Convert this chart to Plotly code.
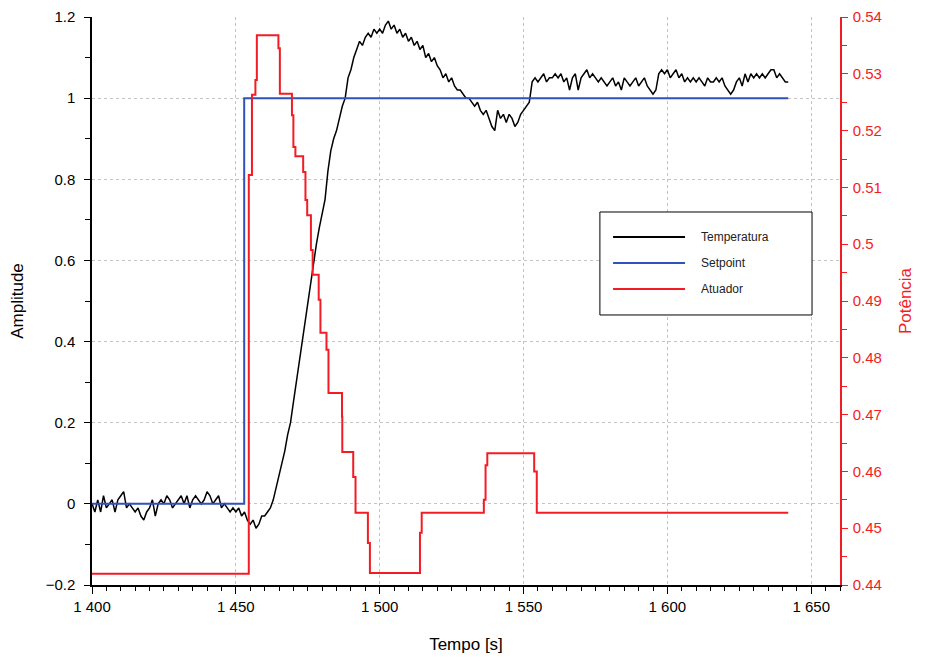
import plotly.graph_objects as go

# Temperatura (amplitude), one sample per second from 1400 s
temp_t0 = 1400
temperatura = [
    0.00, -0.02, 0.01, -0.02, 0.02, -0.01, 0.00, 0.01, -0.02, 0.01,
    0.02, 0.03, -0.01, 0.00, -0.01, -0.02, -0.01, -0.03, -0.04, -0.02,
    -0.01, 0.01, -0.03, 0.00, 0.01, 0.00, 0.02, 0.01, -0.01, 0.00,
    0.01, 0.02, 0.00, 0.02, -0.01, 0.01, 0.02, 0.01, 0.00, 0.01,
    0.03, 0.02, 0.00, 0.01, 0.02, -0.01, 0.00, -0.01, -0.02, -0.01,
    -0.02, -0.01, -0.03, -0.02, -0.04, -0.05, -0.04, -0.06, -0.05, -0.03,
    -0.03, -0.02, -0.01, 0.01, 0.04, 0.07, 0.10, 0.13, 0.17, 0.20,
    0.25, 0.30, 0.35, 0.40, 0.45, 0.50, 0.55, 0.60, 0.64, 0.68,
    0.72, 0.75, 0.82, 0.87, 0.90, 0.92, 0.95, 0.98, 1.00, 1.05,
    1.07, 1.10, 1.12, 1.14, 1.13, 1.15, 1.16, 1.15, 1.17, 1.16,
    1.17, 1.16, 1.18, 1.19, 1.17, 1.18, 1.16, 1.17, 1.15, 1.16,
    1.14, 1.15, 1.13, 1.14, 1.12, 1.13, 1.10, 1.11, 1.09, 1.10,
    1.08, 1.07, 1.05, 1.06, 1.04, 1.05, 1.03, 1.02, 1.02, 1.01,
    1.00, 1.00, 0.99, 0.98, 0.99, 0.97, 0.96, 0.97, 0.95, 0.93,
    0.92, 0.97, 0.95, 0.96, 0.94, 0.96, 0.95, 0.93, 0.94, 0.96,
    0.97, 0.98, 0.99, 1.04, 1.05, 1.04, 1.05, 1.06, 1.04, 1.05,
    1.05, 1.06, 1.05, 1.06, 1.04, 1.05, 1.02, 1.05, 1.06, 1.02,
    1.05, 1.06, 1.07, 1.05, 1.06, 1.05, 1.04, 1.05, 1.04, 1.03,
    1.04, 1.05, 1.03, 1.04, 1.02, 1.05, 1.04, 1.03, 1.04, 1.05,
    1.03, 1.04, 1.05, 1.03, 1.02, 1.01, 1.02, 1.06, 1.07, 1.06,
    1.07, 1.05, 1.06, 1.07, 1.05, 1.06, 1.04, 1.05, 1.04, 1.05,
    1.04, 1.05, 1.04, 1.03, 1.05, 1.04, 1.04, 1.05, 1.04, 1.05,
    1.03, 1.02, 1.01, 1.02, 1.04, 1.05, 1.03, 1.06, 1.04, 1.06,
    1.05, 1.06, 1.05, 1.06, 1.05, 1.06, 1.07, 1.07, 1.05, 1.06,
    1.05, 1.04, 1.04,
]
temp_time = [temp_t0 + i for i in range(len(temperatura))]

# Setpoint (step)
setpoint_time = [1400, 1452.9, 1642]
setpoint = [0, 1, 1]

# Atuador (potência), piecewise constant
atuador_time = [1400, 1454.5, 1455.6, 1456.8, 1457.3, 1464.8, 1465.3,
                1469.5, 1470.0, 1470.7, 1473.4, 1474.2, 1474.8, 1476.1, 1476.7,
                1478.8, 1479.4, 1481.5, 1482.2, 1486.9, 1487.0, 1490.8, 1491.6,
                1495.9, 1496.6, 1514.0, 1514.6, 1536.2, 1536.8, 1537.4, 1553.7,
                1554.6, 1642]
atuador = [0.442, 0.5122, 0.5263, 0.5289, 0.5368, 0.5345, 0.5265,
           0.5227, 0.5171, 0.5155, 0.5127, 0.5078, 0.5051, 0.4990, 0.4946,
           0.4902, 0.4844, 0.4814, 0.4738, 0.4696, 0.4634, 0.4590, 0.4527,
           0.4474, 0.4421, 0.4492, 0.4527, 0.4550, 0.4611, 0.4632, 0.4600,
           0.4527, 0.4527]

RED = '#f41c24'
BLUE = '#2f52bd'
FONT = 'Liberation Sans, Arial, sans-serif'

fig = go.Figure()
fig.add_trace(go.Scatter(x=temp_time, y=temperatura, mode='lines', name='Temperatura',
                         line=dict(color='black', width=1.5)))
fig.add_trace(go.Scatter(x=setpoint_time, y=setpoint, mode='lines', name='Setpoint',
                         line=dict(color=BLUE, width=2, shape='hv')))
fig.add_trace(go.Scatter(x=atuador_time, y=atuador, mode='lines', name='Atuador',
                         line=dict(color=RED, width=2, shape='hv'), yaxis='y2'))

grid = dict(showgrid=True, gridcolor='#c4c4c4', griddash='dot', gridwidth=1)

# the page adds an 8 px body margin, size and margins below account for it
fig.update_layout(
    width=920, height=653,
    margin=dict(l=84, r=88, t=9, b=76),
    plot_bgcolor='white', paper_bgcolor='white',
    font=dict(family=FONT, size=15, color='black'),
    separators='. ',
    showlegend=False,
    xaxis=dict(range=[1400, 1660], dtick=50, tick0=1400, tickformat=',d', automargin=False,
               showline=True, linecolor='black', linewidth=1.5,
               ticks='outside', ticklen=7, tickcolor='black',
               minor=dict(dtick=5, ticks='outside', ticklen=4, tickcolor='black'),
               zeroline=False, title=dict(text='Tempo [s]', font=dict(size=17), standoff=24),
               **grid),
    yaxis=dict(range=[-0.2, 1.2], dtick=0.2, tick0=0, automargin=False,
               showline=True, linecolor='black', linewidth=1.5,
               ticks='outside', ticklen=6, tickcolor='black', ticklabelstandoff=6,
               minor=dict(dtick=0.1, ticks='outside', ticklen=5, tickcolor='black'),
               zeroline=False, title=dict(text='Amplitude', font=dict(size=17), standoff=18),
               **grid),
    yaxis2=dict(range=[0.44, 0.54], dtick=0.01, tick0=0.44, overlaying='y', side='right',
                automargin=False,
                showline=True, linecolor=RED, linewidth=1.5,
                ticks='outside', ticklen=6, tickcolor=RED, ticklabelstandoff=2,
                minor=dict(dtick=0.005, ticks='outside', ticklen=5, tickcolor=RED),
                tickfont=dict(color=RED), showgrid=False, zeroline=False,
                title=dict(text='Potência', font=dict(size=17, color=RED), standoff=18)),
)

# legend box drawn by hand, as in the original figure
legend_items = ['Temperatura', 'Setpoint', 'Atuador']
legend_colors = ['black', BLUE, RED]
fig.add_shape(type='rect', xref='paper', yref='paper', x0=0.679, x1=0.9626, y0=0.4754, y1=0.6567,
              line=dict(color='black', width=1), fillcolor='white', layer='above')
for i, (name, col) in enumerate(zip(legend_items, legend_colors)):
    yy = 0.6127 - i * 0.0458
    fig.add_shape(type='line', xref='paper', yref='paper', x0=0.6966, x1=0.7928, y0=yy, y1=yy,
                  line=dict(color=col, width=2), layer='above')
    fig.add_annotation(xref='paper', yref='paper', x=0.8115, y=yy, text=name, showarrow=False,
                       xanchor='left', yanchor='middle', font=dict(size=12, color='#222'))

fig.write_html("out.html")
